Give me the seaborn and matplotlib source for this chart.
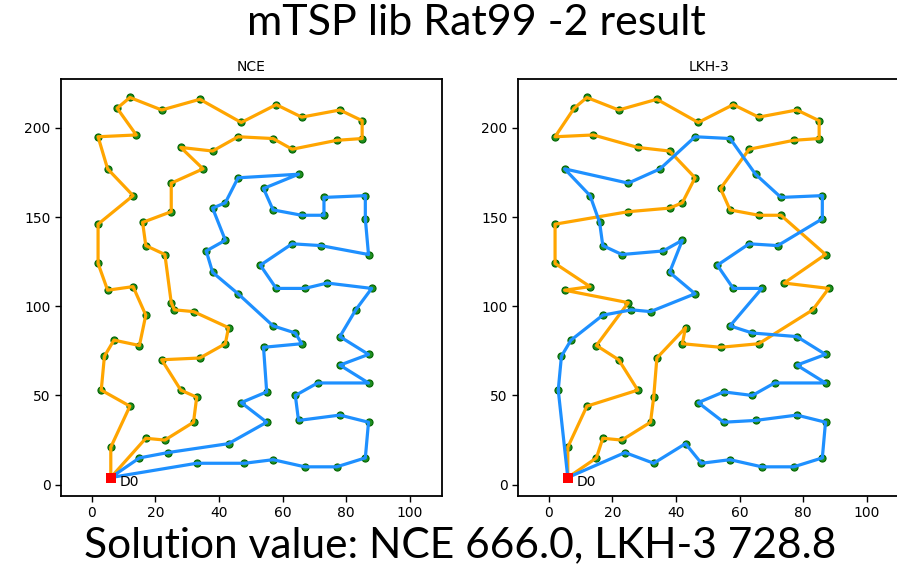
import matplotlib
matplotlib.use("Agg")
import matplotlib.pyplot as plt
import seaborn as sns

sns.set_theme(style="ticks")
plt.rcParams['font.family'] = ['DejaVu Sans']

# ---------------- data (rat99, 2 salesmen) ----------------
depot_x = [6]
depot_y = [4]

nce_orange_x = [6, 6, 12, 3, 4, 7, 15, 17, 13, 5, 2, 2, 13, 5, 2, 14, 8, 12, 22, 34, 47, 58, 66, 78, 85,
                85, 77, 63, 57, 46, 38, 28, 35, 25, 25, 16, 17, 23, 25, 26, 32, 43, 42, 34, 22, 28, 33,
                32, 23, 17, 6]
nce_orange_y = [4, 21, 44, 53, 72, 81, 78, 95, 111, 109, 124, 146, 162, 177, 195, 196, 211, 217, 210, 216,
                203, 213, 206, 210, 204, 194, 193, 188, 194, 195, 187, 189, 177, 169, 153, 147, 134, 129,
                102, 98, 97, 88, 79, 71, 70, 53, 49, 35, 25, 26, 4]

nce_blue_x = [6, 15, 24, 43, 55, 47, 55, 54, 66, 64, 57, 46, 38, 36, 42, 38, 42, 46, 65, 54, 57, 66, 73,
              73, 86, 86, 87, 72, 63, 53, 58, 67, 74, 88, 83, 78, 87, 78, 87, 71, 64, 65, 78, 87, 86, 77,
              67, 57, 48, 33, 6]
nce_blue_y = [4, 15, 18, 23, 35, 46, 52, 77, 79, 85, 89, 107, 119, 131, 137, 155, 158, 172, 174, 166, 154,
              151, 151, 161, 162, 149, 129, 134, 135, 123, 110, 110, 113, 110, 98, 83, 73, 67, 57, 57, 50,
              36, 39, 35, 15, 10, 10, 14, 12, 12, 4]

lkh_orange_x = [6, 15, 17, 23, 32, 33, 34, 43, 42, 54, 66, 83, 88, 74, 87, 73, 66, 57, 54, 63, 77, 85, 85,
                78, 66, 58, 47, 34, 22, 12, 8, 2, 14, 28, 38, 46, 42, 38, 25, 2, 2, 13, 5, 25, 15, 22, 28,
                12, 6, 6]
lkh_orange_y = [4, 15, 26, 25, 35, 49, 71, 88, 79, 77, 79, 98, 110, 113, 129, 151, 151, 154, 166, 188, 193,
                194, 204, 210, 206, 213, 203, 216, 210, 217, 211, 195, 196, 189, 187, 172, 158, 155, 153,
                146, 124, 111, 109, 102, 78, 70, 53, 44, 21, 4]

lkh_blue_x = [6, 24, 33, 43, 48, 57, 67, 77, 86, 87, 78, 65, 55, 47, 55, 64, 71, 87, 78, 87, 78, 64, 57, 67,
              58, 53, 63, 72, 86, 86, 73, 65, 57, 46, 35, 25, 5, 13, 16, 17, 23, 36, 42, 38, 46, 32, 26, 17,
              7, 4, 3, 6]
lkh_blue_y = [4, 18, 12, 23, 12, 14, 10, 10, 15, 35, 39, 36, 35, 46, 52, 50, 57, 57, 67, 73, 83, 85, 89, 110,
              110, 123, 135, 134, 149, 162, 161, 174, 194, 195, 177, 169, 177, 162, 147, 134, 129, 131, 137,
              119, 107, 97, 98, 95, 81, 72, 53, 4]

x_ticks = [0, 20, 40, 60, 80, 100]
y_ticks = [0, 50, 100, 150, 200]

ORANGE = "#FFA500"
BLUE = "#1E90FF"

W, H = 897, 566
fig = plt.figure(figsize=(W / 100, H / 100), dpi=100)
fig.patch.set_facecolor("white")


def px_axes(left, top, right, bottom):
    return fig.add_axes([left / W, 1 - bottom / H, (right - left) / W, (bottom - top) / H])


def draw_panel(ax, title, r1x, r1y, r2x, r2y):
    pts_x = r1x[1:-1] + r2x[1:-1]
    pts_y = r1y[1:-1] + r2y[1:-1]
    sns.scatterplot(x=pts_x, y=pts_y, ax=ax, color="#1f8f1f", edgecolor="#006400",
                    linewidth=0.8, s=26, zorder=2, legend=False)
    sns.lineplot(x=r1x, y=r1y, ax=ax, sort=False, estimator=None, color=ORANGE,
                 linewidth=2.3, zorder=3, legend=False)
    sns.lineplot(x=r2x, y=r2y, ax=ax, sort=False, estimator=None, color=BLUE,
                 linewidth=2.3, zorder=3, legend=False)
    sns.scatterplot(x=depot_x, y=depot_y, ax=ax, color="red", marker="s", s=48,
                    linewidth=0, zorder=5, legend=False)
    ax.text(depot_x[0] + 2.8, depot_y[0] - 2.4, "D0", fontsize=10, va="center", ha="left",
            color="black", zorder=6)
    ax.set_xlim(-9.65, 110.1)
    ax.set_ylim(-6.35, 227.2)
    ax.set_xticks(x_ticks)
    ax.set_yticks(y_ticks)
    ax.tick_params(axis="both", labelsize=10, length=4, width=1.0, color="black",
                   labelcolor="black", pad=3.5, direction="out")
    for sp in ax.spines.values():
        sp.set_visible(True)
        sp.set_color("black")
        sp.set_linewidth(1.3)
    ax.set_facecolor("white")
    ax.set_xlabel("")
    ax.set_ylabel("")
    ax.set_title(title, fontsize=10, pad=6, color="black")


ax1 = px_axes(61, 79.3, 442, 496)
draw_panel(ax1, "NCE", nce_orange_x, nce_orange_y, nce_blue_x, nce_blue_y)
ax2 = px_axes(518, 79.3, 899, 496)
draw_panel(ax2, "LKH-3", lkh_orange_x, lkh_orange_y, lkh_blue_x, lkh_blue_y)

title = fig.text(476 / W, 1 - 35 / H, "mTSP lib Rat99 -2 result", ha="center",
                 va="baseline", fontsize=22, family=["Lato", "DejaVu Sans"], color="black")
bottom = fig.text(460 / W, 1 - 557 / H, "Solution value: NCE 666.0, LKH-3 728.8", ha="center",
                  va="baseline", fontsize=32, family=["Lato", "DejaVu Sans"], color="black")

fig.canvas.draw()
rend = fig.canvas.get_renderer()
for t, target in ((title, 458.0), (bottom, 755.0)):
    w = t.get_window_extent(rend).width
    t.set_fontsize(t.get_fontsize() * target / w)

fig.savefig("out.png", dpi=100, facecolor="white")
